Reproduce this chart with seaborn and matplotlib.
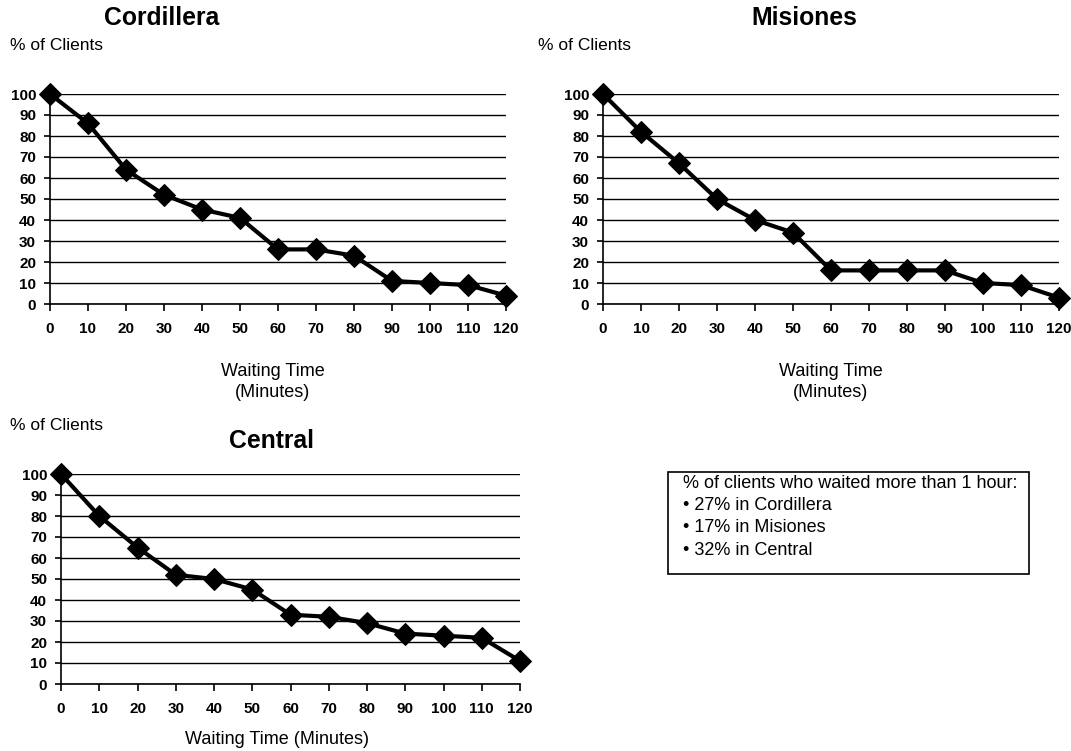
import matplotlib
matplotlib.use("Agg")
import matplotlib.pyplot as plt
import seaborn as sns
import pandas as pd
from matplotlib.patches import Rectangle

# Waiting time (minutes) and share of clients still waiting (%)
minutes = [0, 10, 20, 30, 40, 50, 60, 70, 80, 90, 100, 110, 120]
cordillera = [100, 86, 64, 52, 45, 41, 26, 26, 23, 11, 10, 9, 4]
misiones = [100, 82, 67, 50, 40, 34, 16, 16, 16, 16, 10, 9, 3]
central = [100, 80, 65, 52, 50, 45, 33, 32, 29, 24, 23, 22, 11]

y_ticks = [0, 10, 20, 30, 40, 50, 60, 70, 80, 90, 100]

summary_title = "% of clients who waited more than 1 hour:"
summary_items = ["27% in Cordillera", "17% in Misiones", "32% in Central"]

sns.set_theme(style="white")
plt.rcParams["font.family"] = ["Liberation Sans", "DejaVu Sans"]
plt.rcParams["text.color"] = "black"
plt.rcParams["axes.labelcolor"] = "black"
plt.rcParams["xtick.color"] = "black"
plt.rcParams["ytick.color"] = "black"

W, H = 1071, 751
fig = plt.figure(figsize=(W / 100, H / 100), dpi=100)
fig.patch.set_facecolor("white")


def px_axes(left, right, top, bottom):
    return fig.add_axes([left / W, 1 - bottom / H, (right - left) / W, (bottom - top) / H])


def draw_panel(ax, values):
    df = pd.DataFrame({"minutes": minutes, "pct": values})
    sns.lineplot(data=df, x="minutes", y="pct", ax=ax, color="black", lw=3,
                 marker="D", markersize=11.5, markeredgecolor="black",
                 markerfacecolor="black", clip_on=False, zorder=5)
    ax.set_xlim(0, 120)
    ax.set_ylim(0, 100)
    ax.set_xticks(minutes)
    ax.set_yticks(y_ticks)
    ax.set_xticklabels([str(m) for m in minutes], fontweight="bold")
    ax.set_yticklabels([str(t) for t in y_ticks], fontweight="bold")
    ax.yaxis.grid(True, color="black", lw=1)
    ax.xaxis.grid(False)
    ax.set_axisbelow(True)
    for side in ("top", "right"):
        ax.spines[side].set_visible(False)
    for side in ("left", "bottom"):
        ax.spines[side].set_visible(True)
        ax.spines[side].set_color("black")
        ax.spines[side].set_linewidth(1.2)
    ax.tick_params(axis="x", direction="out", length=5, width=1.2, pad=8,
                   labelsize=11, colors="black", bottom=True)
    ax.tick_params(axis="y", direction="out", length=4, width=1.2, pad=6,
                   labelsize=11, colors="black", left=True)
    ax.set_xlabel("")
    ax.set_ylabel("")
    ax.patch.set_alpha(0)


ax1 = px_axes(50, 506, 94, 304)
draw_panel(ax1, cordillera)
ax2 = px_axes(603, 1059, 94, 304)
draw_panel(ax2, misiones)
ax3 = px_axes(61, 520, 474, 684)
draw_panel(ax3, central)


def ftext(x, y, s, **kw):
    fig.text(x / W, 1 - y / H, s, color="black", **kw)


title_kw = dict(fontsize=17.8, fontweight="bold", ha="center", va="center")
ftext(162, 18, "Cordillera", **title_kw)
ftext(804, 18, "Misiones", **title_kw)
ftext(272, 441, "Central", **title_kw)

lab_kw = dict(fontsize=12.5, ha="left", va="center")
ftext(10, 46, "% of Clients", **lab_kw)
ftext(538, 46, "% of Clients", **lab_kw)
ftext(10, 426, "% of Clients", **lab_kw)

xl_kw = dict(fontsize=13, ha="center", va="center", linespacing=1.3)
ftext(273, 382, "Waiting Time\n(Minutes)", **xl_kw)
ftext(831, 382, "Waiting Time\n(Minutes)", **xl_kw)
ftext(277, 740, "Waiting Time (Minutes)", **xl_kw)

# Summary box
fig.patches.append(Rectangle((668 / W, 1 - 574 / H), (1029 - 668) / W, (574 - 472) / H,
                             transform=fig.transFigure, facecolor="white",
                             edgecolor="black", lw=1.2, zorder=1))
ftext(683, 483, summary_title, fontsize=13, ha="left", va="center", zorder=2)
for i, item in enumerate(summary_items):
    ftext(683, 505.5 + i * 22.5, "\u2022 " + item, fontsize=13, ha="left", va="center", zorder=2)

fig.savefig("out.png", dpi=100, facecolor="white")
